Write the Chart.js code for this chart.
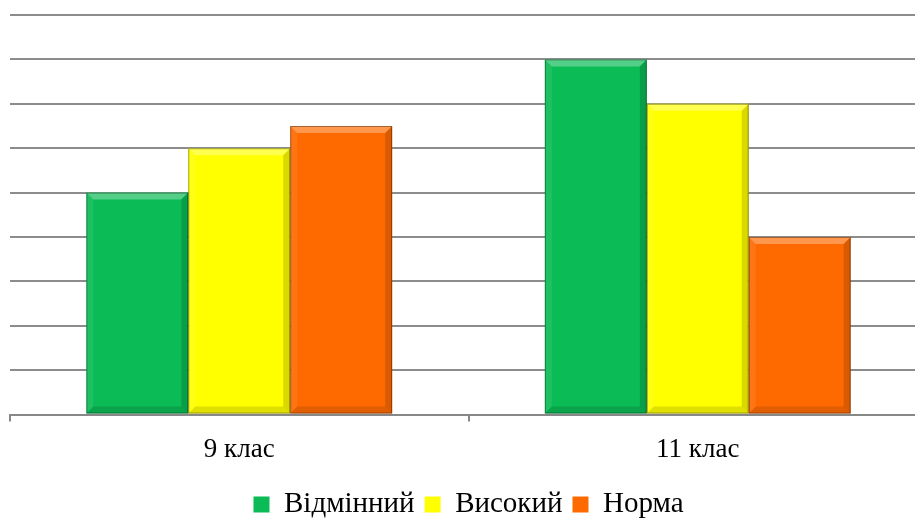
<!DOCTYPE html>
<html>
<head>
<meta charset="utf-8">
<script src="https://cdn.jsdelivr.net/npm/chart.js@4/dist/chart.umd.min.js"></script>
<style>
  html, body { margin: 0; padding: 0; background: #fff; overflow: hidden; }
  #wrap { width: 915px; height: 521px; overflow: hidden; }
</style>
</head>
<body>
<div id="wrap"><canvas id="graph" width="927" height="521"></canvas></div>
<script>
// Categories and series
var classes = ['9 клас', '11 клас'];
var excellent = [5, 8];   // Відмінний
var high = [6, 7];        // Високий
var norm = [6.5, 4];      // Норма

// Bevel look for every bar
var bevel = {
    id: 'bevel',
    afterDatasetsDraw: function (chart) {
        var ctx = chart.ctx;
        chart.data.datasets.forEach(function (ds, i) {
            chart.getDatasetMeta(i).data.forEach(function (bar) {
                var x0 = bar.x - bar.width / 2, x1 = bar.x + bar.width / 2;
                var y0 = bar.y, y1 = bar.base;
                var b = 7;
                ctx.save();
                // top highlight
                ctx.fillStyle = 'rgba(255,255,255,0.3)';
                ctx.beginPath();
                ctx.moveTo(x0, y0); ctx.lineTo(x1, y0); ctx.lineTo(x1 - b, y0 + b); ctx.lineTo(x0 + b, y0 + b);
                ctx.fill();
                // left side
                ctx.fillStyle = 'rgba(255,255,255,0.08)';
                ctx.beginPath();
                ctx.moveTo(x0, y0); ctx.lineTo(x0 + b, y0 + b); ctx.lineTo(x0 + b, y1 - b); ctx.lineTo(x0, y1);
                ctx.fill();
                // right side
                ctx.fillStyle = 'rgba(0,0,0,0.15)';
                ctx.beginPath();
                ctx.moveTo(x1, y0); ctx.lineTo(x1 - b, y0 + b); ctx.lineTo(x1 - b, y1 - b); ctx.lineTo(x1, y1);
                ctx.fill();
                // bottom
                ctx.fillStyle = 'rgba(0,0,0,0.12)';
                ctx.beginPath();
                ctx.moveTo(x0, y1); ctx.lineTo(x0 + b, y1 - b); ctx.lineTo(x1 - b, y1 - b); ctx.lineTo(x1, y1);
                ctx.fill();
                ctx.strokeStyle = 'rgba(0,0,0,0.35)';
                ctx.lineWidth = 1;
                ctx.strokeRect(x0 + 0.5, y0 + 0.5, bar.width - 1, y1 - y0 - 1);
                ctx.restore();
            });
        });
    }
};

var config = {
    type: 'bar',
    data: {
        labels: classes,
        datasets: [
            { label: 'Відмінний', data: excellent, backgroundColor: '#0bbb55' },
            { label: 'Високий', data: high, backgroundColor: '#ffff00' },
            { label: 'Норма', data: norm, backgroundColor: '#ff6a00' }
        ]
    },
    options: {
        responsive: false,
        animation: false,
        layout: { padding: { left: 10, right: 0, top: 15, bottom: -8 } },
        datasets: {
            bar: { categoryPercentage: 0.667, barPercentage: 1 }
        },
        scales: {
            x: {
                grid: { display: true, drawOnChartArea: false, offset: true, tickLength: 7, color: '#888', lineWidth: 2 },
                border: { display: true, color: '#888', width: 2 },
                ticks: { color: '#000', font: { family: 'Liberation Serif', size: 27 }, padding: 12 },
                afterFit: function (scale) { scale.height += 2; }
            },
            y: {
                min: 0,
                max: 9,
                ticks: { display: false, stepSize: 1 },
                grid: { color: '#8c8c8c', lineWidth: 2, drawTicks: false },
                border: { display: false }
            }
        },
        plugins: {
            legend: {
                position: 'bottom',
                labels: {
                    color: '#000',
                    font: { family: 'Liberation Serif', size: 29 },
                    boxWidth: 16,
                    boxHeight: 16,
                    padding: 10
                }
            },
            tooltip: { enabled: false }
        }
    },
    plugins: [bevel]
};

new Chart(document.getElementById('graph'), config);
</script>
</body>
</html>
